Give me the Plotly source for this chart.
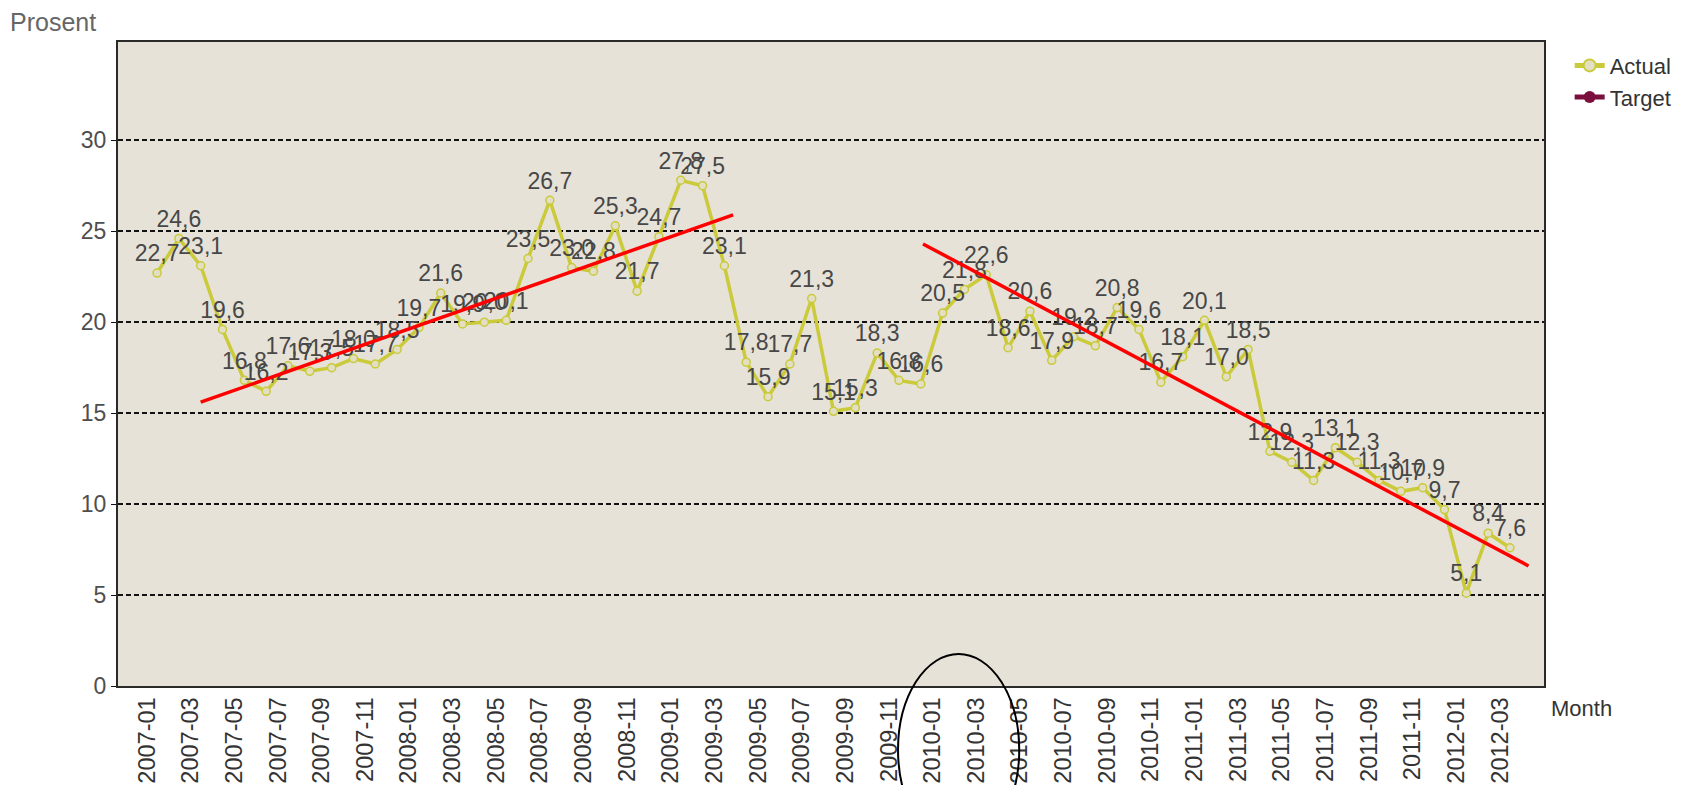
import plotly.graph_objs as go

# Monthly values, 2007-01 .. 2012-03
months = [f'{y}-{m:02d}' for y in range(2007, 2013) for m in range(1, 13)][:63]
actual = [22.7, 24.6, 23.1, 19.6, 16.8, 16.2, 17.6, 17.3, 17.5, 18.0,
          17.7, 18.5, 19.7, 21.6, 19.9, 20.0, 20.1, 23.5, 26.7, 23.0,
          22.8, 25.3, 21.7, 24.7, 27.8, 27.5, 23.1, 17.8, 15.9, 17.7,
          21.3, 15.1, 15.3, 18.3, 16.8, 16.6, 20.5, 21.8, 22.6, 18.6,
          20.6, 17.9, 19.2, 18.7, 20.8, 19.6, 16.7, 18.1, 20.1, 17.0,
          18.5, 12.9, 12.3, 11.3, 13.1, 12.3, 11.3, 10.7, 10.9, 9.7,
          5.1, 8.4, 7.6]

# hand drawn trend lines (month index, percent)
trend1_x = [2.0, 26.4]
trend1_y = [15.6, 25.9]
trend2_x = [35.1, 62.85]
trend2_y = [24.3, 6.6]

y_ticks = [0, 5, 10, 15, 20, 25, 30]

FONT = 'Liberation Sans'
idx = list(range(len(actual)))

trace_actual = go.Scatter(
    x=idx,
    y=actual,
    mode='lines+markers+text',
    name='Actual',
    text=[f'{v:.1f}'.replace('.', ',') for v in actual],
    textposition='top center',
    textfont=dict(family=FONT, size=23, color='#474747'),
    line=dict(color='#CACA3A', width=3.5),
    marker=dict(size=8, color='#E2DFC4',
                line=dict(color='#CACA3A', width=1.5)),
    cliponaxis=False,
)

trace_target = go.Scatter(
    x=[None],
    y=[None],
    mode='lines+markers',
    name='Target',
    line=dict(color='#7A0F3E', width=3.5),
    marker=dict(size=11, color='#7A0F3E'),
)

trend1 = go.Scatter(x=trend1_x, y=trend1_y, mode='lines', showlegend=False,
                    line=dict(color='#FF0000', width=3.5), hoverinfo='skip')
trend2 = go.Scatter(x=trend2_x, y=trend2_y, mode='lines', showlegend=False,
                    line=dict(color='#FF0000', width=3.5), hoverinfo='skip')

# page body has an 8px margin, so the figure is a bit smaller than the window
layout = go.Layout(
    width=1684,
    height=777,
    paper_bgcolor='white',
    plot_bgcolor='#E6E2D7',
    font=dict(family=FONT, size=23, color='#4E4E4E'),
    margin=dict(l=110, r=148, t=34, b=99),
    xaxis=dict(
        range=[-1.79, 63.56],
        tickvals=[i - 0.46 for i in idx[::2]],
        ticktext=months[::2],
        tickangle=-90,
        tickfont=dict(size=23.5, color='#333333'),
        showgrid=False,
        zeroline=False,
        showline=True,
        linecolor='#2A2A2A',
        linewidth=2,
        mirror=True,
        ticks='',
        automargin=False,
    ),
    yaxis=dict(
        range=[0, 35.4],
        tickvals=y_ticks,
        showgrid=True,
        gridcolor='#111111',
        gridwidth=1.5,
        griddash='5px,3px',
        zeroline=False,
        showline=True,
        linecolor='#2A2A2A',
        linewidth=2,
        mirror=True,
        ticks='outside',
        ticklen=5,
        tickcolor='#111111',
        automargin=False,
    ),
    legend=dict(
        x=1.018, y=0.996, xanchor='left', yanchor='top',
        font=dict(family=FONT, size=22, color='#333333'),
        bgcolor='rgba(0,0,0,0)',
        tracegroupgap=0,
        itemsizing='constant',
    ),
    annotations=[
        dict(text='Prosent', xref='paper', yref='paper', x=-0.077, y=1.031,
             xanchor='left', yanchor='middle', showarrow=False,
             font=dict(family=FONT, size=25, color='#666666')),
        dict(text='Month', xref='paper', yref='paper', x=1.0035, y=-0.0357,
             xanchor='left', yanchor='middle', showarrow=False,
             font=dict(family=FONT, size=22, color='#333333')),
    ],
    shapes=[
        dict(type='circle', xref='paper', yref='paper',
             x0=0.547, x1=0.632, y0=-0.248, y1=0.0497,
             line=dict(color='black', width=2)),
    ],
    showlegend=True,
)

fig = go.Figure(data=[trace_actual, trend1, trend2, trace_target], layout=layout)
fig.write_html('out.html')
